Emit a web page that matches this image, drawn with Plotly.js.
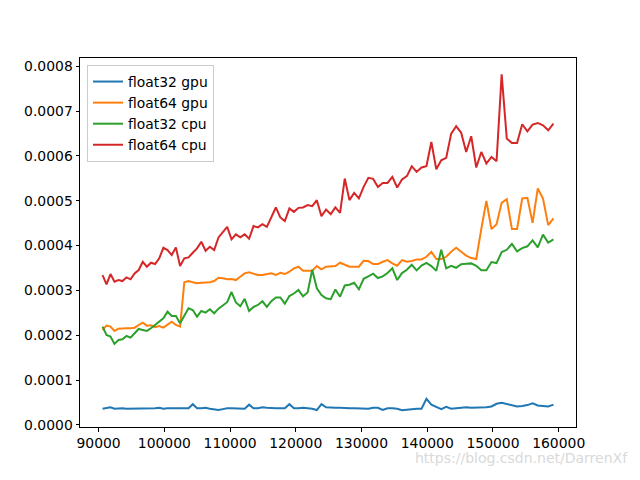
<!DOCTYPE html>
<html>
<head>
<meta charset="utf-8">
<script src="https://cdn.plot.ly/plotly-3.0.1.min.js"></script>
<style>html,body{margin:0;padding:0;background:#fff}#chart{width:640px;height:480px}</style>
</head>
<body>
<div id="chart"></div>
<script>
// x: problem sizes
const sizes = [
  90601, 91204, 91809, 92416, 93025, 93636, 94249, 94864, 95481, 96100,
  96721, 97344, 97969, 98596, 99225, 99856, 100489, 101124, 101761, 102400,
  103041, 103684, 104329, 104976, 105625, 106276, 106929, 107584, 108241, 108900,
  109561, 110224, 110889, 111556, 112225, 112896, 113569, 114244, 114921, 115600,
  116281, 116964, 117649, 118336, 119025, 119716, 120409, 121104, 121801, 122500,
  123201, 123904, 124609, 125316, 126025, 126736, 127449, 128164, 128881, 129600,
  130321, 131044, 131769, 132496, 133225, 133956, 134689, 135424, 136161, 136900,
  137641, 138384, 139129, 139876, 140625, 141376, 142129, 142884, 143641, 144400,
  145161, 145924, 146689, 147456, 148225, 148996, 149769, 150544, 151321, 152100,
  152881, 153664, 154449, 155236, 156025, 156816, 157609, 158404, 159201
];

// timings, in units of 1e-4
const UNIT = 1e-4;
const float32Gpu = [
  0.36, 0.37, 0.39, 0.36, 0.37, 0.37, 0.36, 0.36, 0.37, 0.37, 0.36, 0.37, 0.37, 0.37, 0.38, 0.36, 0.37, 0.37, 0.38, 0.37, 0.37, 0.37,
  0.46, 0.37, 0.37, 0.38, 0.36, 0.35, 0.33, 0.35, 0.37, 0.37, 0.37, 0.36, 0.36, 0.45, 0.37, 0.37, 0.39, 0.38, 0.37, 0.37, 0.37, 0.37, 0.46, 0.37, 0.37, 0.38, 0.37, 0.36, 0.33, 0.46,
  0.39, 0.38, 0.38, 0.38, 0.37, 0.37, 0.37, 0.37, 0.36, 0.36, 0.38, 0.38, 0.33, 0.37, 0.37, 0.36, 0.325, 0.34, 0.36, 0.36, 0.36, 0.58, 0.45, 0.40, 0.35, 0.40, 0.36, 0.37, 0.38, 0.39, 0.38, 0.38, 0.38, 0.39,
  0.41, 0.47, 0.49, 0.46, 0.44, 0.41, 0.42, 0.44, 0.48, 0.43, 0.42, 0.41, 0.45
];
const float64Gpu = [
  2.117, 2.213, 2.191, 2.095, 2.146, 2.155, 2.155, 2.155, 2.168, 2.228, 2.280, 2.213, 2.222, 2.177, 2.206, 2.168, 2.244, 2.302, 2.228, 2.191,
  3.180, 3.209, 3.180, 3.158, 3.171, 3.180, 3.180, 3.209, 3.282,
  3.269, 3.247, 3.253, 3.231, 3.305, 3.380, 3.403, 3.365, 3.343, 3.343, 3.365, 3.380, 3.343, 3.394, 3.365, 3.416, 3.492, 3.528, 3.438, 3.438, 3.438, 3.543, 3.470, 3.528, 3.528, 3.543, 3.617,
  3.565, 3.528, 3.528, 3.528, 3.661, 3.655, 3.588, 3.588, 3.639, 3.677, 3.603, 3.550, 3.677, 3.639, 3.655, 3.692, 3.692, 3.750, 3.862, 3.699, 3.699, 3.750, 3.862, 3.951, 3.862,
  3.777, 3.721, 3.699, 4.374, 4.998, 4.368, 4.479, 4.954, 5.036, 4.368, 4.368, 5.052, 5.065, 4.508, 5.275, 5.052, 4.457, 4.606
];
const float32Cpu = [
  2.191, 2.006, 1.968, 1.805, 1.894, 1.910, 1.983, 1.945, 2.043, 2.139, 2.117, 2.095, 2.155, 2.228, 2.289, 2.378, 2.525, 2.429, 2.429, 2.266,
  2.436, 2.601, 2.563, 2.413, 2.540, 2.503, 2.578, 2.489, 2.592,
  2.663, 2.736, 2.964, 2.730, 2.645, 2.812, 2.540, 2.630, 2.674, 2.757, 2.630, 2.759, 2.841, 2.841, 2.703, 2.875, 2.930, 3.008, 2.868, 2.953, 3.461, 3.046, 2.897, 2.823, 2.803, 3.019, 2.859,
  3.109, 3.126, 3.171, 3.024, 3.258, 3.314, 3.372, 3.276, 3.314, 3.387, 3.492, 3.231, 3.387, 3.461, 3.572, 3.447, 3.554, 3.615, 3.543, 3.436, 3.906, 3.492, 3.550, 3.505, 3.583,
  3.594, 3.603, 3.548, 3.447, 3.447, 3.632, 3.610, 3.855, 3.906, 4.038, 3.873, 3.944, 3.984, 4.116, 3.962, 4.245, 4.067, 4.138
];
const float64Cpu = [
  3.343, 3.135, 3.365, 3.193, 3.231, 3.209, 3.291, 3.247, 3.380, 3.454, 3.639, 3.528, 3.617, 3.588, 3.715, 3.951, 3.900, 3.788, 3.960, 3.543,
  3.715, 3.737, 3.840, 3.938, 4.085, 3.884, 3.973, 3.900, 4.183,
  4.308, 4.419, 4.138, 4.250, 4.183, 4.250, 4.152, 4.435, 4.406, 4.479, 4.419, 4.628, 4.851, 4.628, 4.546, 4.829, 4.753, 4.842, 4.851, 4.903, 4.880, 5.014, 4.657, 4.807, 4.702, 4.851, 4.731,
  5.497, 5.014, 5.177, 5.052, 5.310, 5.511, 5.489, 5.310, 5.399, 5.399, 5.533, 5.297, 5.475, 5.549, 5.772, 5.645, 5.743, 5.772, 6.313, 5.705, 5.905, 5.957, 6.500, 6.663, 6.520,
  6.090, 6.440, 5.743, 6.090, 5.832, 5.979, 5.883, 7.822, 6.389, 6.291, 6.291, 6.708, 6.552, 6.701, 6.737, 6.685, 6.574, 6.723
];

const seriesNames = ['float32 gpu', 'float64 gpu', 'float32 cpu', 'float64 cpu'];
const seriesData = [float32Gpu, float64Gpu, float32Cpu, float64Cpu];
const colors = ['#1f77b4', '#ff7f0e', '#2ca02c', '#d62728'];

const traces = seriesData.map((vals, i) => ({
  type: 'scatter',
  mode: 'lines',
  name: seriesNames[i],
  x: sizes,
  y: vals.map(v => v * UNIT),
  line: {color: colors[i], width: 2}
}));

const font = {family: 'DejaVu Sans, sans-serif', size: 13.9, color: '#000'};
const axisCommon = {
  showline: true, mirror: true, linecolor: '#000', linewidth: 1,
  ticks: 'outside', ticklen: 3.5, tickwidth: 1, tickcolor: '#000',
  showgrid: false, zeroline: false, tickfont: font
};

const layout = {
  width: 640, height: 480,
  margin: {l: 80, r: 64, t: 58, b: 53},
  paper_bgcolor: '#fff', plot_bgcolor: '#fff',
  font: font,
  showlegend: true,
  xaxis: Object.assign({}, axisCommon, {
    range: [87171, 162631], tick0: 90000, dtick: 10000, tickformat: 'd'
  }),
  yaxis: Object.assign({}, axisCommon, {
    range: [-0.0000049, 0.0008187], tick0: 0, dtick: 0.0001, tickformat: '.4f'
  }),
  legend: {
    x: 0.0141, y: 0.981, xanchor: 'left', yanchor: 'top',
    bgcolor: 'rgba(255,255,255,0.8)', bordercolor: '#cccccc', borderwidth: 1,
    font: font
  },
  annotations: [{
    text: 'https://blog.csdn.net/DarrenXf',
    xref: 'paper', yref: 'paper', x: 1.109, y: -0.083,
    xanchor: 'right', yanchor: 'middle', showarrow: false,
    font: {family: 'DejaVu Sans, sans-serif', size: 14, color: '#d9d9d9'}
  }]
};

Plotly.newPlot('chart', traces, layout, {displayModeBar: false, staticPlot: true});
</script>
</body>
</html>
